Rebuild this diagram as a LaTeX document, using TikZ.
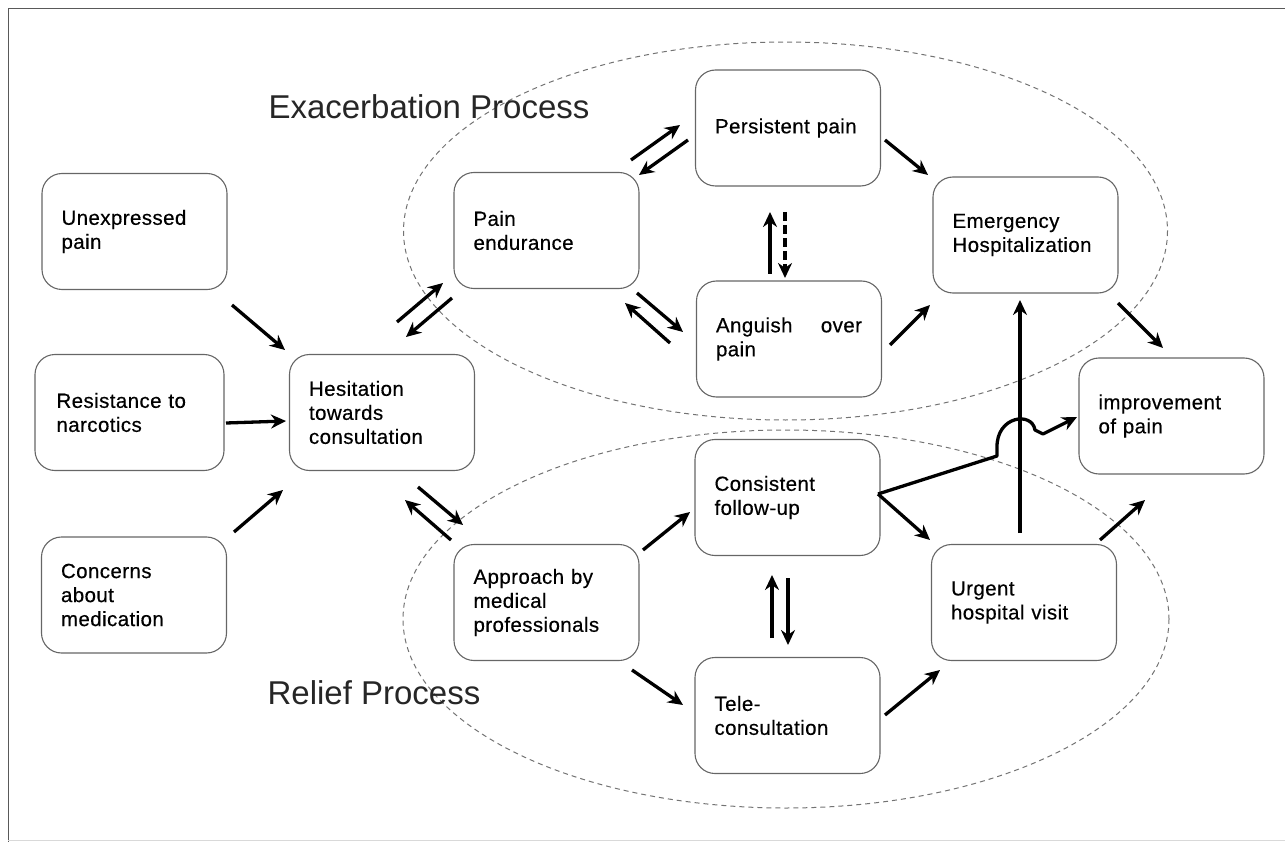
\documentclass[tikz,border=0pt]{standalone}
\usepackage{fontspec}
\setmainfont{Liberation Sans}
\newfontfamily\boxfont[LetterSpace=2,FakeBold=0.4]{Liberation Sans}
\usetikzlibrary{arrows.meta}
\begin{document}
\begin{tikzpicture}[x=1pt,y=-1pt,
  box/.style={draw=black!60, line width=1.1pt, rounded corners=20pt, minimum width=185pt, minimum height=116pt, text width=146pt, align=left, inner sep=0pt, font=\boxfont\fontsize{20.5}{24}\selectfont},
  arr/.style={line width=3.3pt, -{Stealth[length=15pt,width=14pt]}},
  grp/.style={draw=black!55, dash pattern=on 5pt off 4pt, line width=1pt},
  lbl/.style={font=\fontsize{33}{36}\selectfont, text=black!85, inner sep=0pt}]
\useasboundingbox (0,0) rectangle (1285,842);
% frame
\draw[black!65, line width=1pt] (8,842) -- (8,9) -- (1285,9);
\draw[black!15, line width=1pt] (8,840) -- (1285,840);
% group ellipses
\draw[grp] (785.5,231) ellipse [x radius=382, y radius=189];
\draw[grp] (786,619) ellipse [x radius=383, y radius=189];
\node[lbl] (lex) at (429,107) {Exacerbation Process};
\node[lbl] (lrel) at (374,693) {Relief Process};
% boxes
\node[box] (unexp) at (134.5,231.5) {Unexpressed\\pain};
\node[box, minimum width=189pt] (resist) at (129.5,412.5) {Resistance to\\narcotics};
\node[box] (concern) at (134,595) {Concerns\\about\\medication};
\node[box] (hes) at (382,412.5) {Hesitation\\towards\\consultation};
\node[box] (endur) at (546.5,230.5) {Pain\\endurance};
\node[box] (persist) at (788,128) {Persistent pain};
\node[box] (anguish) at (789,339) {Anguish\hfill over\\pain};
\node[box] (emerg) at (1025.5,235) {Emergency\\Hospitalization};
\node[box] (improve) at (1171.5,416) {improvement\\of pain};
\node[box] (consist) at (787.5,497.5) {Consistent\\follow-up};
\node[box] (approach) at (546.5,602.5) {Approach by\\medical\\professionals};
\node[box] (tele) at (787.5,715.5) {Tele-\\consultation};
\node[box] (urgent) at (1024,602.5) {Urgent\\hospital visit};
% arrow end points
\coordinate (a1s) at (232,305);  \coordinate (a1e) at (285,350);
\coordinate (a2s) at (226,423);  \coordinate (a2e) at (286,421);
\coordinate (a3s) at (234,532);  \coordinate (a3e) at (283,490);
\coordinate (a4s) at (397,322);  \coordinate (a4e) at (443,283);
\coordinate (a5s) at (452,298);  \coordinate (a5e) at (406,337);
\coordinate (a6s) at (631,160);  \coordinate (a6e) at (680,125);
\coordinate (a7s) at (688,140);  \coordinate (a7e) at (639,175);
\coordinate (a8s) at (637,293);  \coordinate (a8e) at (683,332);
\coordinate (a9s) at (670,343);  \coordinate (a9e) at (625,303);
\coordinate (a10s) at (770,274); \coordinate (a10e) at (770,212);
\coordinate (a11s) at (785,212); \coordinate (a11e) at (785,278);
\coordinate (a12s) at (885,140); \coordinate (a12e) at (928,175);
\coordinate (a13s) at (890,345); \coordinate (a13e) at (930,305);
\coordinate (a14s) at (1118,303); \coordinate (a14e) at (1163,348);
\coordinate (a15s) at (418,487); \coordinate (a15e) at (463,525);
\coordinate (a16s) at (451,540); \coordinate (a16e) at (405,500);
\coordinate (a17s) at (643,550); \coordinate (a17e) at (690,512);
\coordinate (a18s) at (632,670); \coordinate (a18e) at (683,705);
\coordinate (a19s) at (772,638); \coordinate (a19e) at (772,575);
\coordinate (a20s) at (788,578); \coordinate (a20e) at (788,645);
\coordinate (a21s) at (878,494); \coordinate (a21e) at (930,540);
\coordinate (a22s) at (885,715); \coordinate (a22e) at (940,670);
\coordinate (a23s) at (1020,533); \coordinate (a23e) at (1020,300);
\coordinate (a24s) at (1100,540); \coordinate (a24e) at (1145,500);
\coordinate (j1) at (997,456); \coordinate (j2) at (997,448);
\coordinate (j3) at (1035,430); \coordinate (j4) at (1043,434);
\coordinate (a25e) at (1077,417);
% arrows
\draw[arr] (a1s) -- (a1e);
\draw[arr] (a2s) -- (a2e);
\draw[arr] (a3s) -- (a3e);
\draw[arr] (a4s) -- (a4e);
\draw[arr] (a5s) -- (a5e);
\draw[arr] (a6s) -- (a6e);
\draw[arr] (a7s) -- (a7e);
\draw[arr] (a8s) -- (a8e);
\draw[arr] (a9s) -- (a9e);
\draw[arr] (a10s) -- (a10e);
\draw[arr, dash pattern=on 9pt off 4pt] (a11s) -- (a11e);
\draw[arr] (a12s) -- (a12e);
\draw[arr] (a13s) -- (a13e);
\draw[arr] (a14s) -- (a14e);
\draw[arr] (a15s) -- (a15e);
\draw[arr] (a16s) -- (a16e);
\draw[arr] (a17s) -- (a17e);
\draw[arr] (a18s) -- (a18e);
\draw[arr] (a19s) -- (a19e);
\draw[arr] (a20s) -- (a20e);
\draw[arr] (a21s) -- (a21e);
\draw[arr] (a22s) -- (a22e);
\draw[arr] (a23s) -- (a23e);
\draw[arr] (a24s) -- (a24e);
\draw[arr, line join=round] (a21s) -- (j1) -- (j2) .. controls (996,416) and (1032,411) .. (j3) -- (j4) -- (a25e);
\end{tikzpicture}
\end{document}
